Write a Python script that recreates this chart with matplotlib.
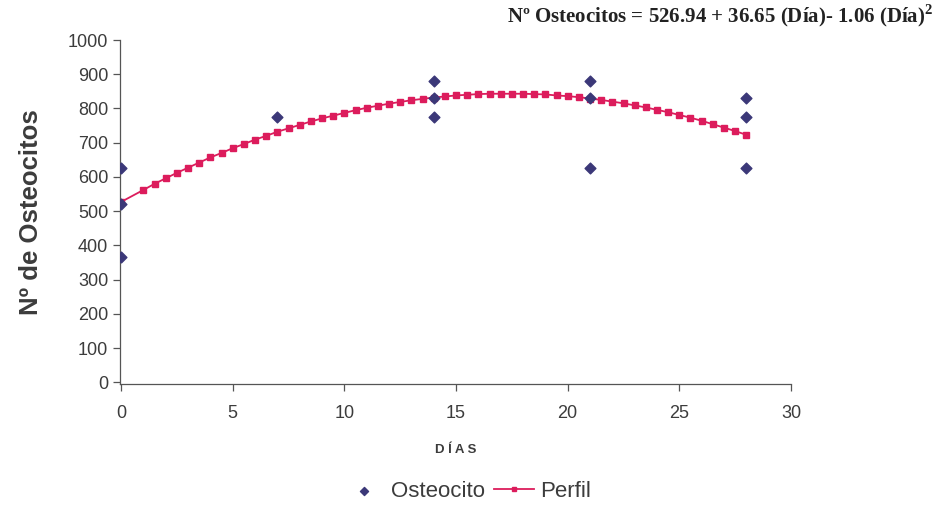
import numpy as np
import matplotlib.pyplot as plt

# observed counts (Osteocito)
obs_dias = [0, 0, 0, 7, 14, 14, 14, 21, 21, 21, 28, 28, 28]
obs_vals = [625, 520, 365, 775, 880, 830, 775, 880, 830, 625, 830, 775, 625]

# fitted profile (Perfil)
perfil_dias = [0, 1, 1.5, 2, 2.5, 3, 3.5, 4, 4.5, 5, 5.5, 6, 6.5, 7, 7.5, 8, 8.5,
               9, 9.5, 10, 10.5, 11, 11.5, 12, 12.5, 13, 13.5, 14, 14.5, 15, 15.5,
               16, 16.5, 17, 17.5, 18, 18.5, 19, 19.5, 20, 20.5, 21, 21.5, 22, 22.5,
               23, 23.5, 24, 24.5, 25, 25.5, 26, 26.5, 27, 27.5, 28]
perfil_vals = [527, 562, 580, 596, 612, 627, 642, 657, 670, 684, 696, 709, 720,
               732, 742, 752, 762, 771, 779, 787, 795, 802, 808, 814, 819, 824,
               828, 832, 835, 838, 840, 842, 843, 843, 843, 843, 842, 841, 838,
               836, 833, 829, 825, 820, 815, 809, 803, 796, 789, 781, 773, 764,
               754, 744, 734, 723]

navy = '#3b3878'
red = '#dc1c5c'
grey = '#3c3c3c'

plt.rcParams['font.family'] = ['Liberation Sans', 'DejaVu Sans']
plt.rcParams['mathtext.fontset'] = 'custom'
plt.rcParams['mathtext.bf'] = 'Liberation Serif:bold'
plt.rcParams['mathtext.rm'] = 'Liberation Serif'

fig = plt.figure(figsize=(9.45, 5.09), dpi=100)
ax = fig.add_axes([0.127, 0.2456, 0.710, 0.6758])

ax.plot(perfil_dias, perfil_vals, color=red, lw=1.3, marker='s', ms=4.5,
        label='Perfil', zorder=2)
ax.scatter(obs_dias, obs_vals, marker='D', s=30, color=navy,
           label='Osteocito', zorder=3)

ax.set_xticks(range(0, 31, 5))
ax.set_yticks(range(0, 1001, 100))
ax.spines['top'].set_visible(False)
ax.spines['right'].set_visible(False)
for s in ['left', 'bottom']:
    ax.spines[s].set_color('#555555')
    ax.spines[s].set_linewidth(0.9)
ax.tick_params(colors='#555555', labelcolor=grey, labelsize=13, length=5,
               width=0.9, direction='out')
ax.tick_params(axis='x', pad=10)

ax.set_ylabel('Nº de Osteocitos', fontsize=18.5, fontweight='bold', color=grey,
              labelpad=18)
ax.set_xlabel('D Í A S', fontsize=9.5, fontweight='bold', color=grey, labelpad=16)
ax.set_xlim(-0.05, 30)
ax.set_ylim(-5, 1000)

fig.text(0.988, 0.944,
         r'Nº Osteocitos = 526.94 + 36.65 (Día)- 1.06 (Día)$^{\mathbf{2}}$',
         ha='right', va='bottom', fontsize=15, fontweight='bold',
         family='Liberation Serif', color='#222222')

h, l = ax.get_legend_handles_labels()
fig.legend(h[::-1], l[::-1], loc='lower center', bbox_to_anchor=(0.495, -0.025),
           ncol=2, frameon=False, fontsize=16, handlelength=1.8,
           columnspacing=0.4, handletextpad=0.3, markerscale=0.75,
           labelcolor=grey)

fig.savefig('out.png', dpi=100)
